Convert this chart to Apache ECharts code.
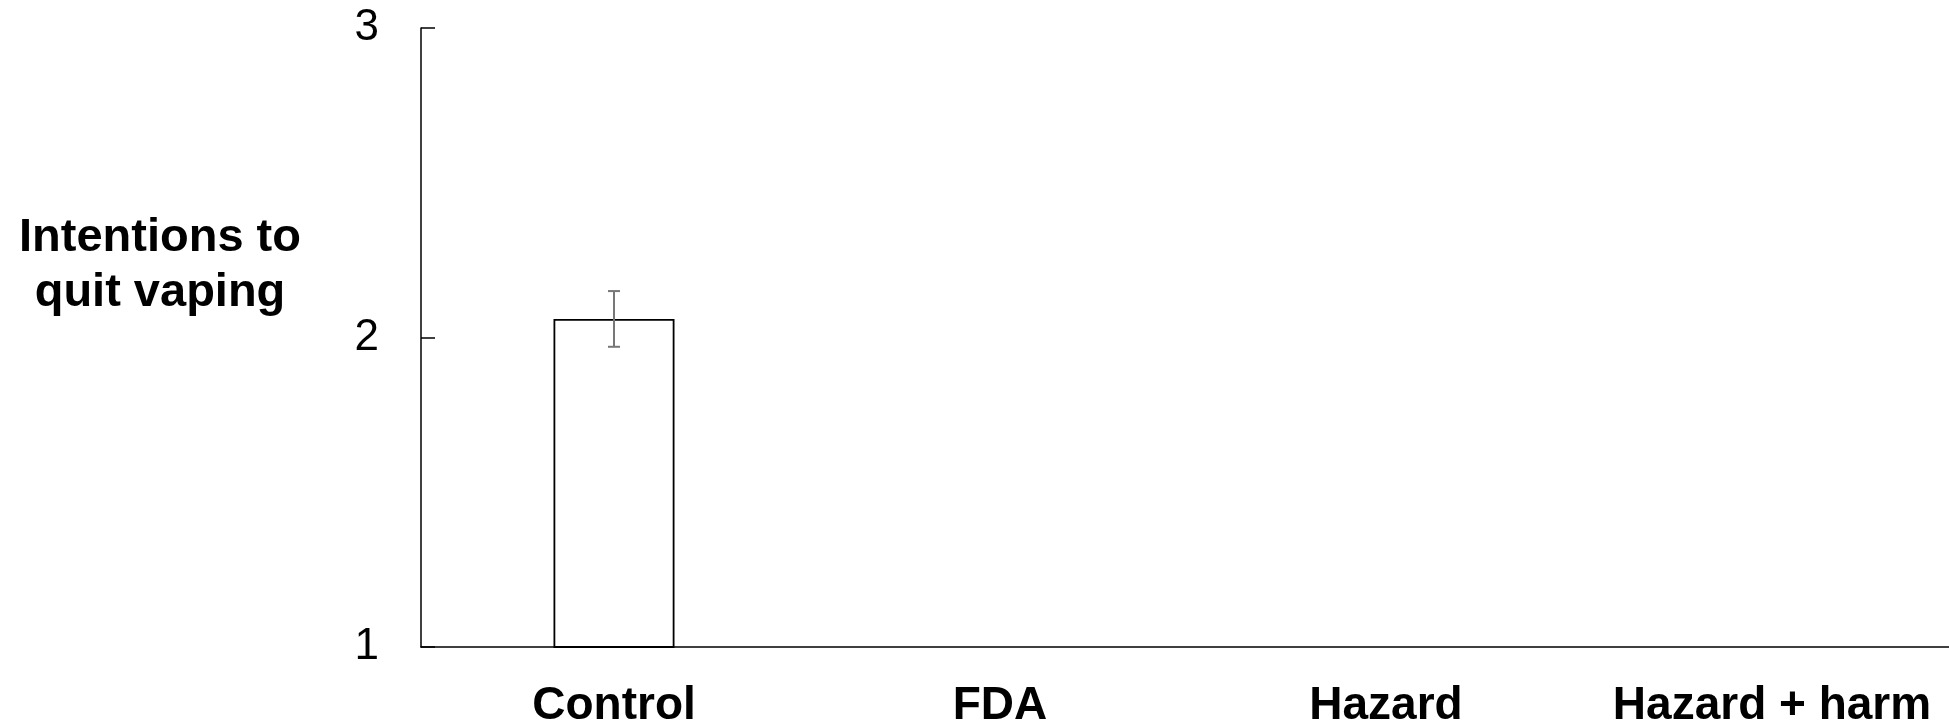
<!DOCTYPE html>
<html>
<head>
<meta charset="utf-8">
<script src="https://cdn.jsdelivr.net/npm/echarts@6/dist/echarts.min.js"></script>
<style>
  html, body { margin: 0; padding: 0; background: #fff; }
  #chart { width: 1949px; height: 725px; }
</style>
</head>
<body>
<div id="chart"></div>
<script>
// Conditions and mean intentions to quit vaping (scale 1–3)
const categories = ['Control', 'FDA', 'Hazard', 'Hazard + harm'];
const means = [2.06, 1, 1, 1];
const errLow = [1.97, null, null, null];
const errHigh = [2.15, null, null, null];
const yTicks = [1, 2, 3];

const FONT = "'Liberation Sans', Arial, Helvetica, sans-serif";

const chart = echarts.init(document.getElementById('chart'), null, { renderer: 'canvas' });

const errorData = categories.map((c, i) => [i, errLow[i], errHigh[i]]).filter(d => d[1] != null);

chart.setOption({
  animation: false,
  backgroundColor: '#fff',
  grid: {
    left: 421, top: 28, bottom: 78, width: 1544,
    containLabel: false,
    outerBoundsMode: 'none'
  },
  xAxis: {
    type: 'category',
    data: categories,
    axisLine: { lineStyle: { color: '#000', width: 1.5 } },
    axisTick: { show: false },
    axisLabel: {
      interval: 0,
      hideOverlap: false,
      color: '#000', fontFamily: FONT, fontSize: 46, fontWeight: 'bold', margin: 36
    }
  },
  yAxis: {
    type: 'value',
    min: yTicks[0],
    max: yTicks[yTicks.length - 1],
    interval: 1,
    splitLine: { show: false },
    axisLine: { show: true, lineStyle: { color: '#000', width: 1.5 } },
    axisTick: { show: true, inside: true, length: 14, lineStyle: { color: '#000', width: 1.5 } },
    axisLabel: {
      color: '#000', fontFamily: FONT, fontSize: 44, margin: 42,
      formatter: v => yTicks.includes(v) ? String(v) : ''
    }
  },
  graphic: [{
    type: 'text',
    x: 160,
    y: 266,
    style: {
      text: 'Intentions to\nquit vaping',
      fill: '#000',
      font: 'bold 47px ' + FONT,
      lineHeight: 55,
      align: 'center',
      verticalAlign: 'middle'
    }
  }],
  series: [
    {
      type: 'bar',
      data: means,
      barWidth: 121,
      itemStyle: { color: '#fff', borderColor: '#000', borderWidth: 1.8 }
    },
    {
      type: 'custom',
      data: errorData,
      z: 5,
      renderItem: function (params, api) {
        const x = api.value(0);
        const lo = api.coord([x, api.value(1)]);
        const hi = api.coord([x, api.value(2)]);
        const half = 6;
        const style = { stroke: '#777', lineWidth: 2 };
        return {
          type: 'group',
          children: [
            { type: 'line', shape: { x1: lo[0], y1: lo[1], x2: hi[0], y2: hi[1] }, style },
            { type: 'line', shape: { x1: lo[0] - half, y1: lo[1], x2: lo[0] + half, y2: lo[1] }, style },
            { type: 'line', shape: { x1: hi[0] - half, y1: hi[1], x2: hi[0] + half, y2: hi[1] }, style }
          ]
        };
      }
    }
  ]
});
</script>
</body>
</html>
